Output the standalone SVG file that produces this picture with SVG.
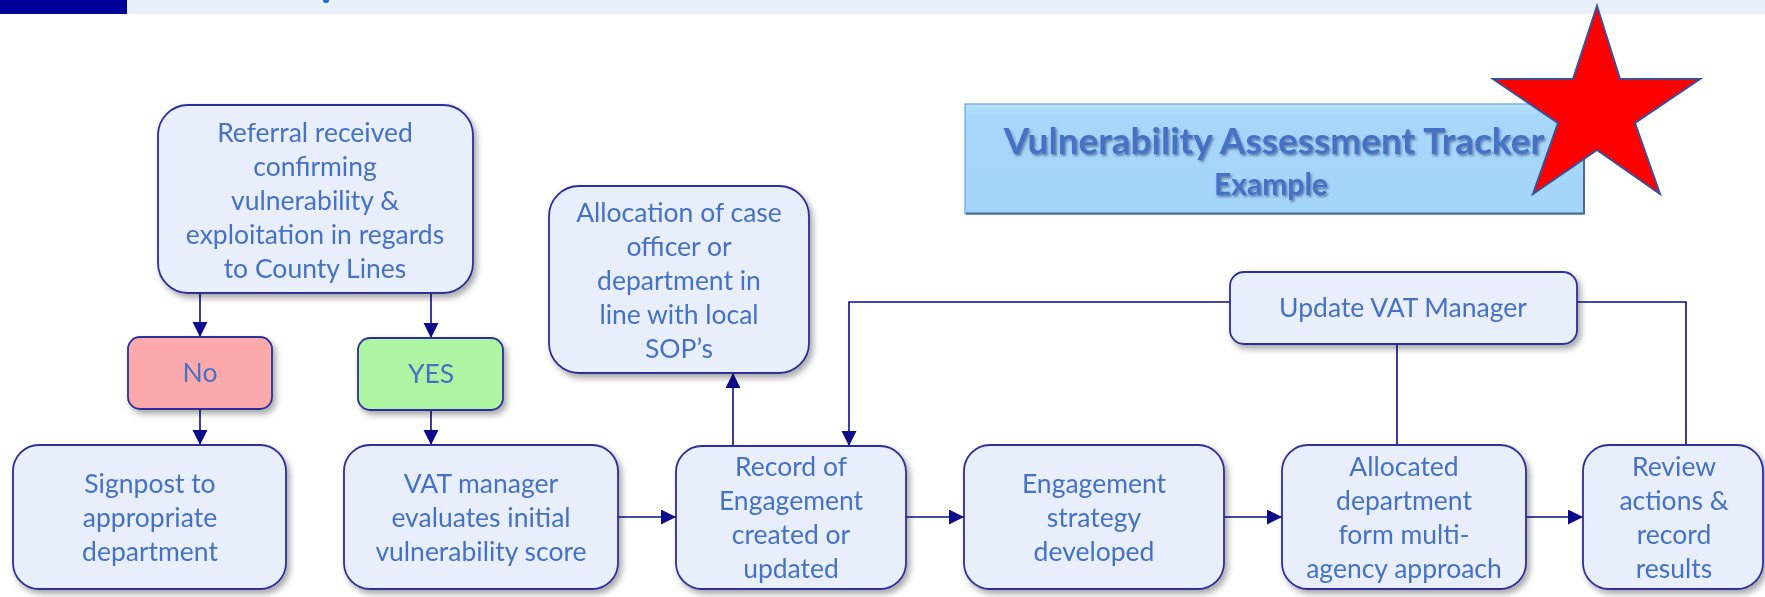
<svg xmlns="http://www.w3.org/2000/svg" width="1765" height="597" viewBox="0 0 1765 597">
<defs>
<style>
.box{fill:#E8EEFC;stroke:#2E2E9C;stroke-width:1.8}
.t{font-family:Lato,"Liberation Sans",sans-serif;font-size:26.5px;fill:#4472C4;text-anchor:middle}
.c{fill:none;stroke:#0B0B8C;stroke-width:1.6}
</style>
<filter id="sh" x="-10%" y="-10%" width="130%" height="140%">
<feDropShadow dx="3" dy="4" stdDeviation="3" flood-color="#000" flood-opacity="0.35"/>
</filter>
<filter id="tsh" x="-5%" y="-20%" width="110%" height="150%">
<feDropShadow dx="1.5" dy="2" stdDeviation="1.2" flood-color="#1a2a5a" flood-opacity="0.5"/>
</filter>
<linearGradient id="tg" x1="0" y1="0" x2="0" y2="1">
<stop offset="0" stop-color="#B9E2FC"/>
<stop offset="0.1" stop-color="#A7D7FB"/>
<stop offset="1" stop-color="#A3D4FA"/>
</linearGradient>
<marker id="ah" markerUnits="userSpaceOnUse" markerWidth="16" markerHeight="16" refX="15" refY="7.5" orient="auto">
<path d="M0,0 L15,7.5 L0,15 z" fill="#0B0B8C"/>
</marker>
</defs>
<rect x="0" y="0" width="1765" height="597" fill="#fff"/>
<g id="header">
<rect x="0" y="0" width="1765" height="14" fill="#E9EFFB"/>
<rect x="0" y="0" width="127" height="14" fill="#00009A"/>
<ellipse cx="326" cy="0.5" rx="3" ry="2.5" fill="#1E6FD0"/>
</g>
<g id="title">
<rect x="965" y="104" width="619" height="110" fill="url(#tg)" stroke="#7FB4E8" stroke-width="1.5"/>
<path d="M966,213.5 H1584 V104" fill="none" stroke="#4A6A90" stroke-width="2"/>
<g filter="url(#tsh)">
<text x="1274" y="154" style="font-family:Lato,'Liberation Sans',sans-serif;font-size:37px;font-weight:bold;fill:#4472C4;text-anchor:middle">Vulnerability Assessment Tracker</text>
<text x="1271" y="195" style="font-family:Lato,'Liberation Sans',sans-serif;font-size:30px;font-weight:bold;fill:#4472C4;text-anchor:middle">Example</text>
</g>
</g>
<g id="star">
<polygon points="1597,6 1620,79 1700,79 1635,123 1660,194 1597,150 1533,194 1558,123 1493,79 1573,79" fill="#FF0000" stroke="#3B4F9A" stroke-width="2" stroke-linejoin="miter"/>
</g>
<g id="connectors">
<path class="c" d="M200,293 V337" marker-end="url(#ah)"/>
<path class="c" d="M431,293 V338" marker-end="url(#ah)"/>
<path class="c" d="M200,409 V445" marker-end="url(#ah)"/>
<path class="c" d="M431,410 V445" marker-end="url(#ah)"/>
<path class="c" d="M618,517 H676" marker-end="url(#ah)"/>
<path class="c" d="M733,446 V373" marker-end="url(#ah)"/>
<path class="c" d="M906,517 H964" marker-end="url(#ah)"/>
<path class="c" d="M1224,517 H1282" marker-end="url(#ah)"/>
<path class="c" d="M1526,517 H1583" marker-end="url(#ah)"/>
<path class="c" d="M1230,302 H849 V446" marker-end="url(#ah)"/>
<path class="c" d="M1397,445 V344"/>
<path class="c" d="M1686,445 V302 H1577"/>
</g>
<g id="referral" filter="url(#sh)">
<rect class="box" x="158" y="105" width="315" height="188" rx="30"/>
<text class="t" x="315" y="142">Referral received</text>
<text class="t" x="315" y="176">confirming</text>
<text class="t" x="315" y="210">vulnerability &amp;</text>
<text class="t" x="315" y="244">exploitation in regards</text>
<text class="t" x="315" y="278">to County Lines</text>
</g>
<g id="no" filter="url(#sh)">
<rect x="128" y="337" width="144" height="72" rx="12" fill="#FBA9AA" stroke="#2E2E9C" stroke-width="1.8"/>
<text class="t" x="200" y="382">No</text>
</g>
<g id="yes" filter="url(#sh)">
<rect x="358" y="338" width="145" height="72" rx="12" fill="#ADF5A3" stroke="#2E2E9C" stroke-width="1.8"/>
<text class="t" x="431" y="383">YES</text>
</g>
<g id="signpost" filter="url(#sh)">
<rect class="box" x="13" y="445" width="273" height="144" rx="26"/>
<text class="t" x="150" y="493">Signpost to</text>
<text class="t" x="150" y="527">appropriate</text>
<text class="t" x="150" y="561">department</text>
</g>
<g id="vat" filter="url(#sh)">
<rect class="box" x="344" y="445" width="274" height="144" rx="26"/>
<text class="t" x="481" y="493">VAT manager</text>
<text class="t" x="481" y="527">evaluates initial</text>
<text class="t" x="481" y="561">vulnerability score</text>
</g>
<g id="allocation" filter="url(#sh)">
<rect class="box" x="549" y="186" width="260" height="187" rx="30"/>
<text class="t" x="679" y="222">Allocation of case</text>
<text class="t" x="679" y="256">officer or</text>
<text class="t" x="679" y="290">department in</text>
<text class="t" x="679" y="324">line with local</text>
<text class="t" x="679" y="358">SOP’s</text>
</g>
<g id="record" filter="url(#sh)">
<rect class="box" x="676" y="446" width="230" height="143" rx="26"/>
<text class="t" x="791" y="476">Record of</text>
<text class="t" x="791" y="510">Engagement</text>
<text class="t" x="791" y="544">created or</text>
<text class="t" x="791" y="578">updated</text>
</g>
<g id="strategy" filter="url(#sh)">
<rect class="box" x="964" y="445" width="260" height="144" rx="26"/>
<text class="t" x="1094" y="493">Engagement</text>
<text class="t" x="1094" y="527">strategy</text>
<text class="t" x="1094" y="561">developed</text>
</g>
<g id="allocated" filter="url(#sh)">
<rect class="box" x="1282" y="445" width="244" height="144" rx="26"/>
<text class="t" x="1404" y="476">Allocated</text>
<text class="t" x="1404" y="510">department</text>
<text class="t" x="1404" y="544">form multi-</text>
<text class="t" x="1404" y="578">agency approach</text>
</g>
<g id="review" filter="url(#sh)">
<rect class="box" x="1583" y="445" width="180" height="144" rx="26"/>
<text class="t" x="1674" y="476">Review</text>
<text class="t" x="1674" y="510">actions &amp;</text>
<text class="t" x="1674" y="544">record</text>
<text class="t" x="1674" y="578">results</text>
</g>
<g id="update" filter="url(#sh)">
<rect class="box" x="1230" y="272" width="347" height="72" rx="14"/>
<text class="t" x="1403" y="317">Update VAT Manager</text>
</g>
</svg>
